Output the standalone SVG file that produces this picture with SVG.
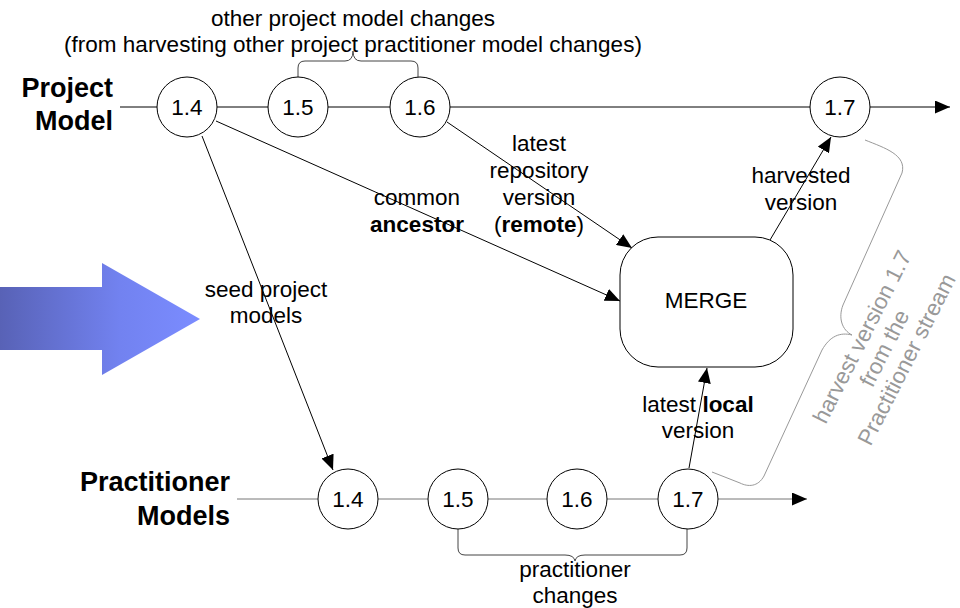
<svg xmlns="http://www.w3.org/2000/svg" width="960" height="608" viewBox="0 0 960 608">
<defs>
<marker id="ah" markerUnits="userSpaceOnUse" markerWidth="16" markerHeight="13" refX="15" refY="6.5" orient="auto">
<path d="M0,0 L15,6.5 L0,13 z" fill="#000"/>
</marker>
<linearGradient id="bg" x1="0" y1="0" x2="200" y2="0" gradientUnits="userSpaceOnUse">
<stop offset="0" stop-color="#5862B6"/>
<stop offset="0.6" stop-color="#7282F0"/>
<stop offset="1" stop-color="#7B8CFF"/>
</linearGradient>
<style>
text{font-family:"Liberation Sans",Arial,sans-serif;font-size:22.5px;fill:#000}
.c{text-anchor:middle}
.b{font-weight:bold;font-size:27px;text-anchor:end}
.node circle{fill:#fff;stroke:#000;stroke-width:1}
.ln{stroke:#000;stroke-width:1;fill:none}
.gray{stroke:#777}
.brace{stroke:#444;stroke-width:1;fill:none}
.gbrace{stroke:#999;stroke-width:1;fill:none}
.gt{fill:#999;text-anchor:middle}
</style>
</defs>
<rect width="960" height="608" fill="#fff"/>

<path d="M0,287 H102 V263 L200,319 L102,375 V350 H0 Z" fill="url(#bg)"/>

<text class="b" x="113" y="97">Project</text>
<text class="b" x="113" y="130">Model</text>
<text class="b" x="230" y="491">Practitioner</text>
<text class="b" x="230" y="525">Models</text>

<text class="c" x="353" y="26">other project model changes</text>
<text class="c" x="353" y="52">(from harvesting other project practitioner model changes)</text>

<g id="connectors">
<line class="ln" x1="120" y1="107" x2="950" y2="107" marker-end="url(#ah)"/>
<line class="ln gray" x1="237" y1="499" x2="807" y2="499" marker-end="url(#ah)"/>
<line class="ln" x1="216" y1="121" x2="620" y2="301" marker-end="url(#ah)"/>
<line class="ln" x1="447" y1="122" x2="632" y2="248" marker-end="url(#ah)"/>
<line class="ln" x1="202" y1="136" x2="333" y2="470" marker-end="url(#ah)"/>
<line class="ln" x1="770" y1="240" x2="831" y2="137" marker-end="url(#ah)"/>
<line class="ln" x1="689" y1="468" x2="707" y2="368" marker-end="url(#ah)"/>
<path class="brace" d="M298,77 L298,68 Q298,61 305,61 L345,61 Q353,61 353,51 Q353,61 361,61 L411,61 Q418,61 418,68 L418,77"/>
<path class="brace" d="M458,529 L458,548 Q458,555 465,555 L565,555 Q574,555 575,561 Q576,555 585,555 L680,555 Q687,555 687,548 L687,529"/>
<path class="gbrace" d="M865,140 C885,148 907,155 902,173 L843,305 C838,318 842,330 852,335 C840,332 830,336 822,350 L764,476 C758,487 748,487 740,483 L712,472"/>
</g>

<g id="pm14" class="node"><circle cx="187" cy="107" r="30"/><text class="c" x="187" y="115">1.4</text></g>
<g id="pm15" class="node"><circle cx="298" cy="107" r="30"/><text class="c" x="298" y="115">1.5</text></g>
<g id="pm16" class="node"><circle cx="420" cy="107" r="30"/><text class="c" x="420" y="115">1.6</text></g>
<g id="pm17" class="node"><circle cx="840" cy="107" r="30"/><text class="c" x="840" y="115">1.7</text></g>

<g id="pr14" class="node"><circle cx="348" cy="499" r="30"/><text class="c" x="348" y="507">1.4</text></g>
<g id="pr15" class="node"><circle cx="458" cy="499" r="30"/><text class="c" x="458" y="507">1.5</text></g>
<g id="pr16" class="node"><circle cx="577" cy="499" r="30"/><text class="c" x="577" y="507">1.6</text></g>
<g id="pr17" class="node"><circle cx="688" cy="499" r="30"/><text class="c" x="688" y="507">1.7</text></g>

<g id="merge"><rect x="620" y="237" width="173" height="130" rx="38" ry="38" fill="#fff" stroke="#000" stroke-width="1"/><text class="c" x="706" y="308">MERGE</text></g>

<g id="labels">
<text class="c" x="417" y="205">common</text>
<text class="c" x="417" y="232" font-weight="bold">ancestor</text>
<text class="c" x="539" y="151">latest</text>
<text class="c" x="539" y="178">repository</text>
<text class="c" x="539" y="205">version</text>
<text class="c" x="539" y="232">(<tspan font-weight="bold">remote</tspan>)</text>
<text class="c" x="801" y="183">harvested</text>
<text class="c" x="801" y="210">version</text>
<text class="c" x="266" y="297">seed project</text>
<text class="c" x="266" y="323">models</text>
<text class="c" x="698" y="412">latest <tspan font-weight="bold">local</tspan></text>
<text class="c" x="698" y="438">version</text>
<text class="c" x="575" y="577">practitioner</text>
<text class="c" x="575" y="603">changes</text>
<g transform="translate(884,348) rotate(-63)">
<text class="gt" x="0" y="-17">harvest version 1.7</text>
<text class="gt" x="0" y="8">from the</text>
<text class="gt" x="0" y="33">Practitioner stream</text>
</g>
</g>
</svg>
